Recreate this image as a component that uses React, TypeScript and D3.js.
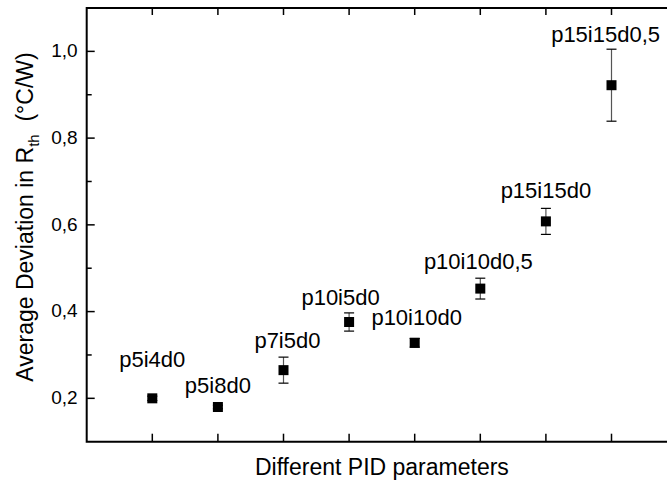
import React, { useRef, useEffect } from 'react';
import * as d3 from 'd3';

// PID parameter sets, in x order
const categories = [
  'p5i4d0',
  'p5i8d0',
  'p7i5d0',
  'p10i5d0',
  'p10i10d0',
  'p10i10d0,5',
  'p15i15d0',
  'p15i15d0,5',
];
// average deviation in Rth (°C/W)
const values = [0.2, 0.18, 0.265, 0.376, 0.328, 0.453, 0.608, 0.922];
// error bar half-widths
const errors = [0.005, 0.004, 0.03, 0.021, 0.01, 0.024, 0.03, 0.083];
// label anchors (category units / value units)
const labelX = [1, 2, 3.06, 3.87, 5.03, 5.97, 7, 7.91];
const labelY = [0.272, 0.212, 0.316, 0.416, 0.368, 0.499, 0.663, 1.021];

const yTicks = [0.2, 0.4, 0.6, 0.8, 1.0];
const yMinorTicks = [0.3, 0.5, 0.7, 0.9];

const W = 667;
const H = 481;
const FONT = '"Liberation Sans", Arial, Helvetica, sans-serif';

const Chart: React.FC = () => {
  const svgRef = useRef<SVGSVGElement>(null);

  useEffect(() => {
    if (!svgRef.current) return;
    const svg = d3.select(svgRef.current);
    svg.selectAll('*').remove();

    const left = 86.7;
    const top = 8;
    const bottom = 441.7;

    const x = d3.scaleLinear().domain([0, 9]).range([left, left + 9 * 65.6]);
    const y = d3.scaleLinear().domain([0.1, 1.1]).range([bottom, top]);

    const g = svg.append('g');

    // frame (left, bottom, top; right side runs off the picture)
    g.append('path')
      .attr('d', `M${x(9)},${y(1.1)}H${x(0)}V${y(0.1)}H${x(9)}`)
      .attr('fill', 'none')
      .attr('stroke', '#000')
      .attr('stroke-width', 2);

    const xt = d3.range(1, 9);
    // bottom ticks (inward)
    g.selectAll('line.xb')
      .data(xt)
      .join('line')
      .attr('x1', (d) => x(d))
      .attr('x2', (d) => x(d))
      .attr('y1', y(0.1))
      .attr('y2', y(0.1) - 8)
      .attr('stroke', '#000')
      .attr('stroke-width', 1.5);
    // top ticks (inward)
    g.selectAll('line.xt')
      .data(xt)
      .join('line')
      .attr('x1', (d) => x(d))
      .attr('x2', (d) => x(d))
      .attr('y1', y(1.1))
      .attr('y2', y(1.1) + 7)
      .attr('stroke', '#000')
      .attr('stroke-width', 1.5);

    // y ticks
    g.selectAll('line.ym')
      .data(yTicks)
      .join('line')
      .attr('x1', x(0))
      .attr('x2', x(0) + 8)
      .attr('y1', (d) => y(d))
      .attr('y2', (d) => y(d))
      .attr('stroke', '#000')
      .attr('stroke-width', 1.5);
    g.selectAll('line.yn')
      .data(yMinorTicks)
      .join('line')
      .attr('x1', x(0))
      .attr('x2', x(0) + 5)
      .attr('y1', (d) => y(d))
      .attr('y2', (d) => y(d))
      .attr('stroke', '#000')
      .attr('stroke-width', 1.5);

    g.selectAll('text.yl')
      .data(yTicks)
      .join('text')
      .attr('x', x(0) - 9)
      .attr('y', (d) => y(d))
      .attr('dy', '0.3em')
      .attr('text-anchor', 'end')
      .attr('font-family', FONT)
      .attr('font-size', 19)
      .text((d) => d3.format('.1f')(d).replace('.', ','));

    // error bars
    const eb = g.selectAll('g.eb').data(values).join('g');
    eb.append('line')
      .attr('x1', (_, i) => x(i + 1))
      .attr('x2', (_, i) => x(i + 1))
      .attr('y1', (d, i) => y(d + errors[i]))
      .attr('y2', (d, i) => y(d - errors[i]))
      .attr('stroke', '#555')
      .attr('stroke-width', 1.2);
    eb.append('line')
      .attr('x1', (_, i) => x(i + 1) - 5)
      .attr('x2', (_, i) => x(i + 1) + 5)
      .attr('y1', (d, i) => y(d + errors[i]))
      .attr('y2', (d, i) => y(d + errors[i]))
      .attr('stroke', '#000')
      .attr('stroke-width', 1.2);
    eb.append('line')
      .attr('x1', (_, i) => x(i + 1) - 5)
      .attr('x2', (_, i) => x(i + 1) + 5)
      .attr('y1', (d, i) => y(d - errors[i]))
      .attr('y2', (d, i) => y(d - errors[i]))
      .attr('stroke', '#000')
      .attr('stroke-width', 1.2);

    // markers
    g.selectAll('rect.pt')
      .data(values)
      .join('rect')
      .attr('x', (_, i) => x(i + 1) - 5)
      .attr('y', (d) => y(d) - 5)
      .attr('width', 10)
      .attr('height', 10)
      .attr('fill', '#000');

    // point labels
    g.selectAll('text.lab')
      .data(categories)
      .join('text')
      .attr('x', (_, i) => x(labelX[i]))
      .attr('y', (_, i) => y(labelY[i]))
      .attr('text-anchor', 'middle')
      .attr('font-family', FONT)
      .attr('font-size', 22)
      .text((d) => d);

    // x title
    svg.append('text')
      .attr('x', (x(0) + x(9)) / 2)
      .attr('y', 475)
      .attr('text-anchor', 'middle')
      .attr('font-family', FONT)
      .attr('font-size', 23)
      .text('Different PID parameters');

    // y title
    const yt = svg.append('text')
      .attr('transform', 'translate(33,217) rotate(-90)')
      .attr('text-anchor', 'middle')
      .attr('font-family', FONT)
      .attr('font-size', 23);
    yt.append('tspan').text('Average Deviation in R');
    yt.append('tspan').attr('font-size', 15).attr('dy', 6).text('th');
    yt.append('tspan').attr('dy', -6).text('\u00a0 (°C/W)');
  }, []);

  return (
    <svg
      ref={svgRef}
      width={W}
      height={H}
      style={{ position: 'absolute', left: 0, top: 0, background: '#fff' }}
    />
  );
};

export default function App() {
  return <Chart />;
}
